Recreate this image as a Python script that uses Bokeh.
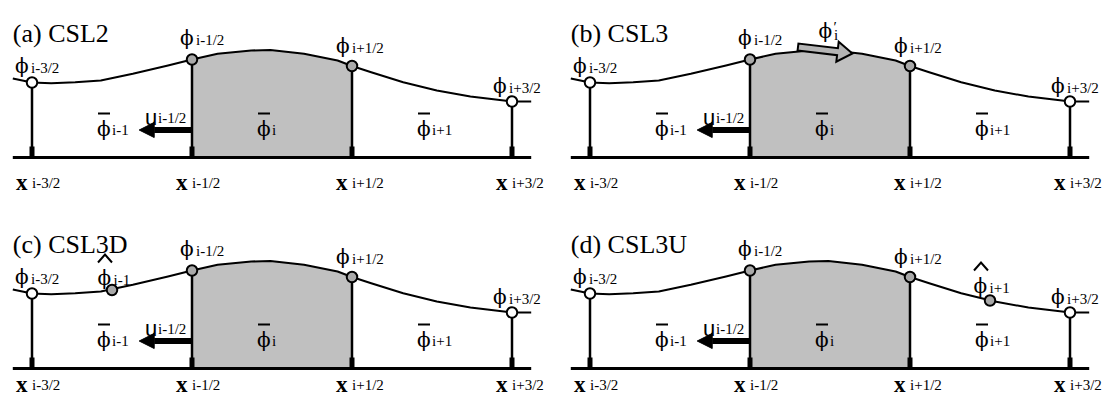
import math
from bokeh.plotting import figure
from bokeh.models import Range1d, ColumnDataSource, Arrow, NormalHead
from bokeh.core.properties import value
from bokeh.embed import file_html
from bokeh.resources import INLINE

# ---------------- data ----------------
PANEL_TITLES = ["(a) CSL2", "(b) CSL3", "(c) CSL3D", "(d) CSL3U"]
NODE_X = [-1.5, -0.5, 0.5, 1.5]                 # cell faces (cell units)
NODE_PHI = [7.5, 9.8, 9.15, 5.6]                 # phi at cell faces
NODE_SUB = ["i-3/2", "i-1/2", "i+1/2", "i+3/2"]
NODE_INNER = [False, True, True, False]          # faces of cell i (grey dots)
CELL_X = [-1.0, 0.0, 1.0]                        # cell centres
CELL_SUB = ["i-1", "i", "i+1"]
CURVE_X = [-1.62, -1.5, -1.38, -1.23, -1.07, -0.87, -0.65, -0.5, -0.34, -0.13,
           -0.01, 0.2, 0.41, 0.5, 0.62, 0.82, 1.03, 1.24, 1.45, 1.5, 1.62]
CURVE_PHI = [7.9, 7.5, 7.43, 7.52, 7.7, 8.37, 9.2, 9.8, 10.37, 10.7,
             10.75, 10.37, 9.7, 9.15, 8.53, 7.53, 6.7, 6.1, 5.7, 5.6, 5.6]
HAT_C = {"x": -1.0, "phi": 7.85, "sub": "i-1"}   # (c) downstream hat value
HAT_D = {"x": 1.0, "phi": 6.8, "sub": "i+1"}     # (d) upstream hat value
U_FACE = -0.5                                    # face where u_{i-1/2} acts
U_LEN = -0.33                                    # velocity arrow length (cells)
U_LEVEL = 2.75
PRIME_TAIL = (-0.2, 11.05)                       # derivative arrow phi'_i
PRIME_TIP = (0.14, 10.4)
PRIME_ANCHOR = (0.0, 10.7)

# ---------------- layout / style ----------------
W, H = 1103, 397
SX, SY = 160.0, 10.0            # px per cell unit, px per phi unit
X0 = -271.5 / SX
Y1 = 157 / SY
PANEL_OFF = [(0.0, 0.0), (558 / SX, 0.0), (0.0, -211 / SY), (558 / SX, -211 / SY)]
SERIF = "Liberation Serif"
PHIFONT = "DejaVu Serif"
SANS = "Liberation Sans"
GREY_AREA = "#c0c0c0"
GREY_DOT = "#a9a9a9"
PHI = "\u03d5"
PHI_SIZE = 20

p = figure(width=W, height=H, output_backend="svg", toolbar_location=None,
           x_range=Range1d(X0, X0 + W / SX), y_range=Range1d(Y1 - H / SY, Y1),
           min_border=0, outline_line_color=None)
p.xaxis.visible = False
p.yaxis.visible = False
p.grid.visible = False
p.background_fill_color = "white"
p.border_fill_color = "white"

NODE_LBL_OFF = [(-17, -17), (-12, -22), (-16, -20), (-19, -16)]


def texts(rows, font, size, style="normal"):
    src = ColumnDataSource(dict(x=[r[0] for r in rows], y=[r[1] for r in rows],
                                t=[r[2] for r in rows], xo=[r[3] for r in rows],
                                yo=[r[4] for r in rows]))
    p.text(x="x", y="y", text="t", x_offset="xo", y_offset="yo", source=src,
           text_font=value(font), text_font_size=value(f"{size}px"),
           text_font_style=style, text_align="left", text_baseline="alphabetic",
           text_color="black")


for k, (ox, oy) in enumerate(PANEL_OFF):
    # shaded cell i
    ax = [x + ox for x, _ in zip(CURVE_X, CURVE_PHI) if -0.5 <= x <= 0.5]
    ay = [v + oy for x, v in zip(CURVE_X, CURVE_PHI) if -0.5 <= x <= 0.5]
    p.varea(x=ax, y1=[oy] * len(ax), y2=ay, fill_color=GREY_AREA)

    nx = [x + ox for x in NODE_X]
    ny = [v + oy for v in NODE_PHI]
    # node stems
    p.segment(x0=nx, y0=[oy] * 4, x1=nx, y1=ny, line_color="black", line_width=2.5)
    # ticks on the axis
    p.segment(x0=nx, y0=[oy] * 4, x1=nx, y1=[oy + 11 / SY] * 4, line_color="black",
              line_width=5, line_cap="butt")
    # axis line
    p.segment(x0=[CURVE_X[0] + ox], y0=[oy], x1=[CURVE_X[-1] + ox], y1=[oy],
              line_color="black", line_width=3)
    # profile
    p.line([x + ox for x in CURVE_X], [v + oy for v in CURVE_PHI], line_color="black",
           line_width=2, line_join="round")

    # velocity arrow u_{i-1/2}
    p.add_layout(Arrow(end=NormalHead(size=15, fill_color="black", line_color="black",
                                      line_width=1),
                       x_start=U_FACE + ox, y_start=U_LEVEL + oy,
                       x_end=U_FACE + U_LEN + ox, y_end=U_LEVEL + oy,
                       line_width=6, line_color="black"))

    # derivative arrow (b)
    if k == 1:
        tx, ty = PRIME_TAIL[0] + ox, PRIME_TAIL[1] + oy
        ex, ey = PRIME_TIP[0] + ox, PRIME_TIP[1] + oy
        dxp, dyp = (ex - tx) * SX, -(ey - ty) * SY
        L = math.hypot(dxp, dyp)
        ux, uy = dxp / L, dyp / L
        nxp, nyp = -uy, ux
        sw, hw, hl = 3.5, 10.0, 15.0
        pts = [(nxp * sw, nyp * sw),
               (ux * (L - hl) + nxp * sw, uy * (L - hl) + nyp * sw),
               (ux * (L - hl) + nxp * hw, uy * (L - hl) + nyp * hw),
               (ux * L, uy * L),
               (ux * (L - hl) - nxp * hw, uy * (L - hl) - nyp * hw),
               (ux * (L - hl) - nxp * sw, uy * (L - hl) - nyp * sw),
               (-nxp * sw, -nyp * sw)]
        p.patch([tx + a / SX for a, b in pts], [ty - b / SY for a, b in pts],
                fill_color="#b5b5b5", line_color="black", line_width=2,
                line_join="miter")

    # hat values (c), (d)
    hat = HAT_C if k == 2 else HAT_D if k == 3 else None
    hat_off = {2: (-14.5, -12.5), 3: (-16.5, -15)}
    if hat is not None:
        hx, hy = hat["x"] + ox, hat["phi"] + oy
        hdx, hdy = hat_off[k]
        texts([(hx, hy, PHI, hdx, hdy)], PHIFONT, PHI_SIZE)
        texts([(hx, hy, hat["sub"], hdx + 16, hdy + 2)], SERIF, 15)
        # circumflex over phi
        bx = hx + hdx / SX
        by = hy - hdy / SY
        p.line([bx + 0.5 / SX, bx + 7.5 / SX, bx + 14.5 / SX],
               [by + 15 / SY, by + 23 / SY, by + 15 / SY],
               line_color="black", line_width=2, line_join="miter")

    # node dots
    p.scatter(nx, ny, size=10.5, line_color="black", line_width=2,
              fill_color=[GREY_DOT if f else "white" for f in NODE_INNER])
    if hat is not None:
        p.scatter([hat["x"] + ox], [hat["phi"] + oy], size=10.5, line_color="black",
                  line_width=2, fill_color=GREY_DOT)

    # title
    texts([(CURVE_X[0] + ox, oy + 12.4, PANEL_TITLES[k], 0, 0)], SERIF, 26)

    # node labels phi_{...}
    texts([(x, y, PHI, o[0], o[1]) for x, y, o in zip(nx, ny, NODE_LBL_OFF)],
          PHIFONT, PHI_SIZE)
    texts([(x, y, s, o[0] + 16, o[1] + 2) for x, y, s, o in
           zip(nx, ny, NODE_SUB, NODE_LBL_OFF)], SERIF, 15)

    # cell averages phi-bar
    cx = [c + ox for c in CELL_X]
    texts([(x, oy, PHI, -15, -29) for x in cx], PHIFONT, PHI_SIZE)
    texts([(x, oy, s, 0, -28) for x, s in zip(cx, CELL_SUB)], SERIF, 15)
    p.segment(x0=[x - 14 / SX for x in cx], y0=[oy + 44 / SY] * 3,
              x1=[x - 2.0 / SX for x in cx], y1=[oy + 44 / SY] * 3,
              line_color="black", line_width=2)

    # u_{i-1/2}
    texts([(U_FACE + ox, oy, "u", -47, -40)], SANS, 22)
    texts([(U_FACE + ox, oy, "i-1/2", -34, -40)], SERIF, 15)

    # x labels
    xdy = 25 if k < 2 else 16
    texts([(x, oy, "x", -16, xdy) for x in nx], SERIF, 23, "bold")
    texts([(x, oy, s, 0, xdy) for x, s in zip(nx, NODE_SUB)], SERIF, 15)

    # phi'_i (b)
    if k == 1:
        ax0, ay0 = PRIME_ANCHOR[0] + ox, PRIME_ANCHOR[1] + oy
        texts([(ax0, ay0, PHI, -11.5, -20)], PHIFONT, PHI_SIZE)
        texts([(ax0, ay0, "i", 4, -16)], SERIF, 15)
        texts([(ax0, ay0, "\u2032", 3.5, -24)], SERIF, 15)

open("out.html", "w").write(file_html(p, INLINE))
